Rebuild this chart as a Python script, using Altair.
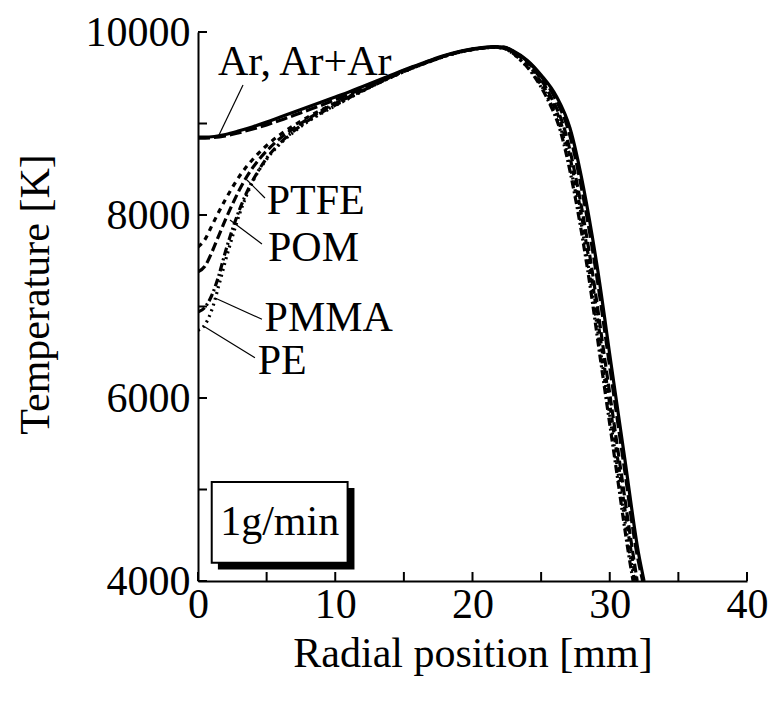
import altair as alt
import pandas as pd

FONT = "Liberation Serif"
FS = 42
W, H = 549, 549

# ---------------- data ----------------
ar_r = [0, 1, 2, 3, 4, 5, 6, 7, 8, 9, 10, 11, 12, 13, 14, 15, 16, 17, 18, 19, 20, 21,
        21.6, 22.3, 23, 24, 25, 26.1, 27.1, 28.1, 29.1, 30.1, 31.1, 32.1, 32.5]
ar_T = [8850, 8855, 8880, 8920, 8965, 9015, 9070, 9125, 9180, 9235, 9290, 9345, 9405, 9465,
        9525, 9585, 9640, 9695, 9745, 9785, 9815, 9835,
        9840, 9835, 9790, 9690, 9530, 9300, 8950, 8290, 7420, 6370, 5330, 4300, 4000]

arar_r = [0, 1, 2, 3, 4, 5, 6, 7, 8, 9, 10, 11, 12, 13, 14, 15, 16, 17, 18, 19, 20, 21,
          21.6, 22.3, 23, 24, 25, 26, 27, 28, 29, 30, 31, 32, 32.4]
arar_T = [8840, 8845, 8865, 8900, 8940, 8985, 9035, 9090, 9145, 9200, 9260, 9320, 9385, 9450,
          9515, 9580, 9635, 9690, 9740, 9782, 9812, 9832,
          9838, 9833, 9785, 9680, 9515, 9280, 8920, 8250, 7380, 6340, 5300, 4280, 4000]

ptfe_r = [0, 0.5, 1, 1.5, 2, 2.5, 3, 4, 5, 6, 7, 8, 9, 10, 11, 12, 13, 14, 15, 16, 17, 18, 19,
          20, 21, 21.6, 22.2, 22.9, 23.8, 24.7, 25.6, 26.6, 27.6, 28.6, 29.6, 30.6, 31.6, 31.9]
ptfe_T = [7650, 7730, 7880, 8030, 8170, 8300, 8420, 8610, 8760, 8880, 8980, 9070, 9150, 9225,
          9295, 9365, 9435, 9505, 9570, 9630, 9685, 9738, 9780, 9810, 9830,
          9835, 9828, 9785, 9685, 9520, 9290, 8930, 8270, 7400, 6350, 5310, 4280, 4000]

pom_r = [0, 0.5, 1, 1.5, 2, 2.5, 3, 4, 5, 6, 7, 8, 9, 10, 11, 12, 13, 14, 15, 16, 17, 18, 19,
         20, 21, 21.6, 22.2, 22.9, 23.9, 24.8, 25.7, 26.7, 27.7, 28.7, 29.7, 30.7, 31.7, 32.0]
pom_T = [7380, 7440, 7590, 7770, 7950, 8115, 8270, 8520, 8700, 8840, 8950, 9050, 9140, 9220,
         9290, 9362, 9435, 9505, 9570, 9630, 9685, 9738, 9780, 9810, 9830,
         9835, 9828, 9787, 9688, 9525, 9295, 8940, 8280, 7410, 6360, 5320, 4290, 4000]

pmma_r = [0, 0.5, 1, 1.5, 2, 2.5, 3, 3.5, 4, 5, 6, 7, 8, 9, 10, 11, 12, 13, 14, 15, 16, 17, 18,
          19, 20, 21, 21.6, 22.2, 22.8, 23.6, 24.5, 25.4, 26.4, 27.4, 28.4, 29.4, 30.4, 31.4, 31.7]
pmma_T = [6940, 6990, 7120, 7330, 7600, 7840, 8050, 8230, 8380, 8620, 8790, 8920, 9030, 9120,
          9200, 9280, 9358, 9432, 9502, 9568, 9628, 9683, 9736, 9778, 9808, 9828,
          9833, 9826, 9782, 9680, 9515, 9285, 8920, 8260, 7390, 6340, 5300, 4270, 4000]

pe_r = [0, 0.5, 1, 1.5, 2, 2.5, 3, 3.5, 4, 5, 6, 7, 8, 9, 10, 11, 12, 13, 14, 15, 16, 17, 18,
        19, 20, 21, 21.6, 22.2, 22.8, 23.6, 24.6, 25.5, 26.5, 27.5, 28.5, 29.5, 30.5, 31.5, 31.8]
pe_T = [6740, 6800, 6960, 7220, 7500, 7760, 8000, 8200, 8370, 8610, 8780, 8910, 9020, 9110,
        9195, 9275, 9355, 9430, 9500, 9566, 9626, 9682, 9735, 9777, 9807, 9827,
        9832, 9825, 9780, 9678, 9512, 9280, 8915, 8255, 7385, 6335, 5295, 4265, 4000]

series = [
    ("Ar", ar_r, ar_T, None),
    ("Ar+Ar", arar_r, arar_T, [12, 4]),
    ("PTFE", ptfe_r, ptfe_T, [5, 5]),
    ("POM", pom_r, pom_T, [9, 4]),
    ("PMMA", pmma_r, pmma_T, [8, 3, 2, 3]),
    ("PE", pe_r, pe_T, [2, 4]),
]

# annotation labels and leader lines
label_text = ["Ar, Ar+Ar", "PTFE", "POM", "PMMA", "PE"]
label_r = [1.45, 5.0, 5.1, 4.85, 4.35]
label_T = [9530, 8010, 7500, 6730, 6260]

leader_r1 = [3.28, 4.88, 4.66, 4.66, 4.15]
leader_T1 = [9421, 8186, 7683, 6860, 6440]
leader_r2 = [1.53, 3.57, 2.33, 1.24, 0.51]
leader_T2 = [8874, 8383, 7945, 7093, 6776]

box_text = "1g/min"
box_r = [1.0, 10.9]
box_T = [4200, 5082]
shadow_r = [1.45, 11.40]
shadow_T = [4125, 5016]
box_text_r = 5.95
box_text_T = 4500

x_labels = [0, 10, 20, 30, 40]
x_ticks = [0, 5, 10, 15, 20, 25, 30, 35, 40]
y_labels = [4000, 6000, 8000, 10000]
y_ticks = [4000, 5000, 6000, 7000, 8000, 9000, 10000]

# ---------------- chart ----------------
xs = alt.Scale(domain=[0, 40], nice=False, zero=False)
ys = alt.Scale(domain=[4000, 10000], nice=False, zero=False)

xaxis = alt.Axis(values=x_labels, ticks=False, grid=False, domainColor="black", domainWidth=2,
                 labelFont=FONT, labelFontSize=FS, labelColor="black", labelPadding=3,
                 labelFlush=False, format="d",
                 title="Radial position [mm]", titleFont=FONT, titleFontSize=FS,
                 titleFontWeight="normal", titleColor="black", titlePadding=8)
yaxis = alt.Axis(values=y_labels, ticks=False, grid=False, domainColor="black", domainWidth=2,
                 labelFont=FONT, labelFontSize=FS, labelColor="black", labelPadding=8,
                 labelFlush=False, format="d",
                 title="Temperature [K]", titleFont=FONT, titleFontSize=FS,
                 titleFontWeight="normal", titleColor="black", titlePadding=28, titleY=262)

X = alt.X("r:Q", scale=xs, axis=xaxis)
Y = alt.Y("T:Q", scale=ys, axis=yaxis)

layers = []

# box shadow and box
shadow_df = pd.DataFrame({"r": [shadow_r[0]], "r2": [shadow_r[1]], "T": [shadow_T[0]], "T2": [shadow_T[1]]})
box_df = pd.DataFrame({"r": [box_r[0]], "r2": [box_r[1]], "T": [box_T[0]], "T2": [box_T[1]]})
layers.append(alt.Chart(shadow_df).mark_rect(color="black").encode(
    x=X, x2="r2:Q", y=Y, y2="T2:Q"))
layers.append(alt.Chart(box_df).mark_rect(fill="white", stroke="black", strokeWidth=2).encode(
    x=X, x2="r2:Q", y=Y, y2="T2:Q"))
layers.append(alt.Chart(pd.DataFrame({"r": [box_text_r], "T": [box_text_T], "t": [box_text]}))
              .mark_text(font=FONT, fontSize=FS, color="black", align="center", baseline="alphabetic")
              .encode(x=X, y=Y, text="t:N"))

for name, rr, tt, dash in series:
    df = pd.DataFrame({"r": rr, "T": tt})
    kw = dict(color="black", strokeWidth=3.2, interpolate="monotone", clip=True)
    if dash is not None:
        kw["strokeDash"] = dash
    layers.append(alt.Chart(df).mark_line(**kw).encode(x=X, y=Y))

# leaders
lead_df = pd.DataFrame({"r": leader_r1, "T": leader_T1, "r2": leader_r2, "T2": leader_T2})
layers.append(alt.Chart(lead_df).mark_rule(color="black", strokeWidth=1.2).encode(
    x=X, y=Y, x2="r2:Q", y2="T2:Q"))

# labels
lab_df = pd.DataFrame({"r": label_r, "T": label_T, "t": label_text})
layers.append(alt.Chart(lab_df).mark_text(font=FONT, fontSize=FS, color="black", align="left",
                                          baseline="alphabetic").encode(x=X, y=Y, text="t:N"))

# inward ticks
layers.append(alt.Chart(pd.DataFrame({"r": x_ticks})).mark_rule(color="black", strokeWidth=2).encode(
    x=X, y=alt.value(H), y2=alt.value(H - 9)))
layers.append(alt.Chart(pd.DataFrame({"T": y_ticks})).mark_rule(color="black", strokeWidth=2).encode(
    y=Y, x=alt.value(0), x2=alt.value(9)))

chart = alt.layer(*layers).properties(
    width=W, height=H,
    padding={"left": 198, "top": 32, "right": 28, "bottom": 123},
    autosize=alt.AutoSizeParams(type="none"),
    background="white",
).configure_view(stroke=None)

chart.save("out.html", embed_options={"renderer": "svg", "actions": False})
